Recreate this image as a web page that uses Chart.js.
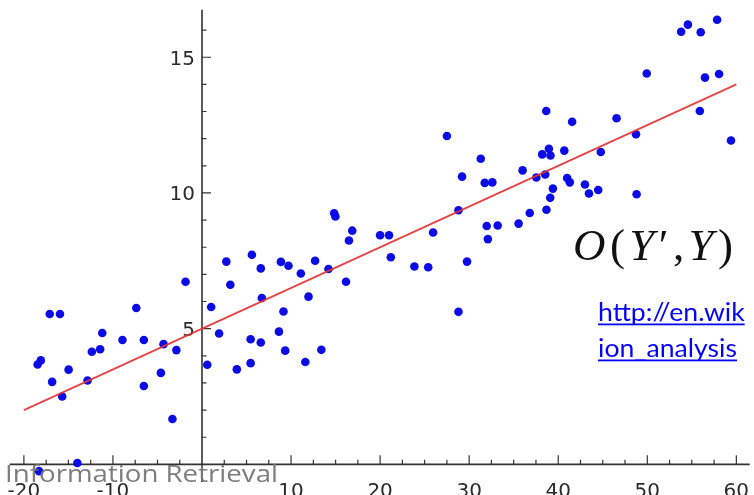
<!DOCTYPE html>
<html>
<head>
<meta charset="utf-8">
<script src="https://cdn.jsdelivr.net/npm/chart.js@4.4.1/dist/chart.umd.min.js"></script>
<style>
  html, body { margin: 0; padding: 0; background: #fff; }
  #wrap { width: 754px; height: 495px; position: relative; }
</style>
</head>
<body>
<div id="wrap"><canvas id="fitChart" width="754" height="495"></canvas></div>
<script>
// observed samples
const sampleX = [
  -18.46, -18.1, -17.1, -15.95, -16.83, -15.7, -14.98, -12.85, -12.37, -11.44,
  -11.2, -8.93, -7.38, -6.53, -6.53, -4.62, -4.32, -3.32, -2.88, -1.85,
  -14.0, -18.3, 0.59, 1.03, 1.92, 2.73, 3.18, 3.91, 5.46, 5.46,
  5.6, 6.6, 6.6, 6.72, 8.64, 8.86, 9.15, 9.34, 9.71, 11.1,
  11.6, 11.96, 12.7, 13.4, 14.2, 14.84, 14.98, 16.17, 16.5, 16.87,
  20.0, 21.0, 21.2, 23.85, 25.4, 25.95, 27.5, 28.8, 28.8, 29.2,
  29.76, 31.3, 31.75, 32.6, 31.97, 32.1, 33.2, 35.55, 36.0, 36.8,
  37.54, 38.2, 38.54, 38.65, 38.68, 38.95, 39.1, 39.13, 39.4, 40.68,
  41.0, 41.3, 41.56, 43.0, 43.45, 44.49, 44.78, 46.55, 48.73, 48.8,
  49.94, 53.8, 54.56, 55.9, 56.0, 56.48, 57.84, 58.06, 59.4
];
const sampleY = [
  3.68, 3.83, 5.54, 5.54, 3.04, 2.5, 3.49, 3.09, 4.15, 4.24,
  4.84, 4.58, 5.76, 4.58, 2.89, 3.37, 4.43, 1.67, 4.21, 6.73,
  0.05, -0.25, 3.67, 5.8, 4.82, 7.47, 6.62, 3.5, 3.73, 4.61,
  7.72, 7.22, 4.49, 6.13, 4.89, 7.46, 5.63, 4.19, 7.32, 7.03,
  3.77, 6.18, 7.5, 4.22, 7.2, 9.25, 9.13, 6.73, 8.25, 8.61,
  8.44, 8.44, 7.63, 7.29, 7.26, 8.54, 12.1, 5.62, 9.36, 10.6,
  7.47, 11.26, 10.37, 10.39, 8.78, 8.3, 8.8, 8.87, 10.83, 9.26,
  10.57, 11.42, 10.68, 13.02, 9.38, 11.63, 9.82, 11.38, 10.16, 11.56,
  10.55, 10.39, 12.62, 10.31, 9.98, 10.11, 11.51, 12.75, 12.16, 9.95,
  14.4, 15.94, 16.2, 13.02, 15.92, 14.25, 16.38, 14.38, 11.93
];

// least-squares line, end points
const fitX = [-20, 60];
const fitY = [2.0, 14.0];

const xTickValues = [-20, -10, 10, 20, 30, 40, 50, 60];
const yTickValues = [5, 10, 15];

const points = sampleX.map((x, i) => ({ x: x, y: sampleY[i] }));
const fitLine = fitX.map((x, i) => ({ x: x, y: fitY[i] }));

// draw text squeezed/stretched horizontally
function drawStretched(ctx, text, x, y, sx) {
  ctx.save();
  ctx.translate(x, y);
  ctx.scale(sx, 1);
  ctx.fillText(text, 0, 0);
  ctx.restore();
}

// axes cross at the origin, ticks point inward
const crossAxes = {
  id: 'crossAxes',
  beforeDatasetsDraw(chart) {
    const { ctx, scales: { x, y } } = chart;
    const x0 = x.getPixelForValue(0);
    const y0 = y.getPixelForValue(0);
    ctx.save();
    ctx.strokeStyle = '#333';
    ctx.lineWidth = 1.6;
    ctx.beginPath();
    ctx.moveTo(x.getPixelForValue(-21.6), y0);
    ctx.lineTo(x.right, y0);
    ctx.moveTo(x0, y.getPixelForValue(16.75));
    ctx.lineTo(x0, y.getPixelForValue(-0.65));
    ctx.stroke();

    ctx.lineWidth = 1.2;
    ctx.beginPath();
    for (let v = -20; v <= 60; v += 2.5) {
      if (v === 0) continue;
      const len = v % 10 === 0 ? 9 : 4.5;
      const px = x.getPixelForValue(v);
      ctx.moveTo(px, y0);
      ctx.lineTo(px, y0 - len);
    }
    for (let v = 1; v <= 16; v++) {
      const len = v % 5 === 0 ? 9 : 4.5;
      const py = y.getPixelForValue(v);
      ctx.moveTo(x0, py);
      ctx.lineTo(x0 + len, py);
    }
    ctx.stroke();

    ctx.fillStyle = '#2b2b2b';
    ctx.font = '20px "DejaVu Sans"';
    ctx.textAlign = 'center';
    ctx.textBaseline = 'alphabetic';
    xTickValues.forEach(v => {
      ctx.fillText(String(v), x.getPixelForValue(v), 496.5);
    });
    ctx.textAlign = 'right';
    yTickValues.forEach(v => {
      ctx.fillText(String(v), x0 - 7, y.getPixelForValue(v) + 7.5);
    });
    ctx.restore();
  },
  afterDraw(chart) {
    const { ctx } = chart;
    ctx.save();
    ctx.textBaseline = 'alphabetic';
    ctx.textAlign = 'left';

    // formula
    ctx.fillStyle = '#111';
    const parts = [
      ['O', true], ['(', false], ['Y', true], ['\u2032', false],
      [',', false], ['Y', true], [')', false]
    ];
    const fSize = 45;
    const widths = parts.map(([t, it]) => {
      ctx.font = (it ? 'italic ' : '') + fSize + 'px "Liberation Serif"';
      return ctx.measureText(t).width;
    });
    const natural = widths.reduce((a, b) => a + b, 0);
    const gap = (160 - natural) / (parts.length - 1);
    let cx = 573;
    parts.forEach(([t, it], i) => {
      ctx.font = (it ? 'italic ' : '') + fSize + 'px "Liberation Serif"';
      ctx.fillText(t, cx, 260);
      cx += widths[i] + gap;
    });

    // link
    ctx.fillStyle = '#0505f5';
    ctx.font = '25px Lato';
    const linkSx = 139 / ctx.measureText('ion_analysis').width;
    [['http://en.wik', 320.5], ['ion_analysis', 356.5]].forEach(([t, by]) => {
      drawStretched(ctx, t, 598, by, linkSx);
      const w = ctx.measureText(t).width * linkSx;
      ctx.fillRect(598, by + 3, w, 1.8);
    });

    // footer caption
    ctx.fillStyle = 'rgba(118,118,118,0.95)';
    ctx.font = '24px "Open Sans"';
    const cap = 'Information Retrieval';
    drawStretched(ctx, cap, 5, 482, 273 / ctx.measureText(cap).width);
    ctx.restore();
  }
};

new Chart(document.getElementById('fitChart'), {
  type: 'scatter',
  data: {
    datasets: [
      {
        type: 'line',
        label: 'fit',
        data: fitLine,
        borderColor: 'rgba(226, 52, 52, 0.92)',
        borderWidth: 1.8,
        pointRadius: 0,
        fill: false,
        tension: 0
      },
      {
        label: 'samples',
        data: points,
        backgroundColor: '#0b0be6',
        borderWidth: 0,
        pointRadius: 4.3,
        pointHoverRadius: 4.3
      }
    ]
  },
  options: {
    responsive: false,
    animation: false,
    devicePixelRatio: 1,
    layout: { padding: 0 },
    plugins: {
      legend: { display: false },
      tooltip: { enabled: false }
    },
    scales: {
      x: { type: 'linear', min: -22.2, max: 61.5, display: false },
      y: { type: 'linear', min: -0.97, max: 16.95, display: false }
    }
  },
  plugins: [crossAxes]
});
</script>
</body>
</html>
